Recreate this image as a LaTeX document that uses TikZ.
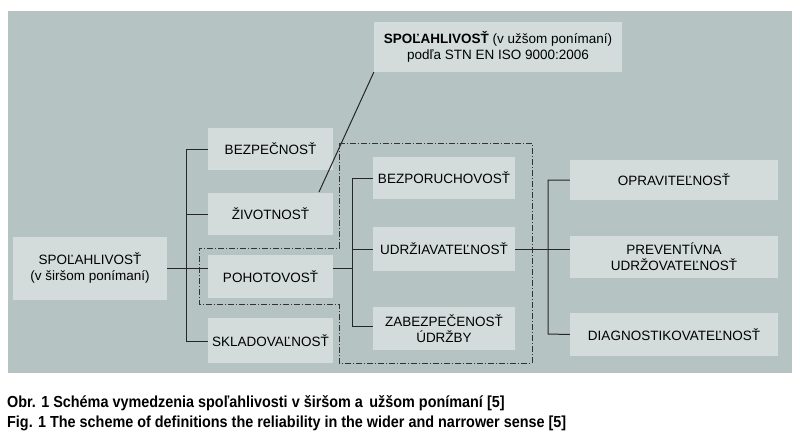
\documentclass[tikz,border=0pt]{standalone}
\usepackage{fontspec}
\setmainfont{Liberation Sans}
\begin{document}
\begin{tikzpicture}[x=1pt,y=-1pt,
  bx/.style={fill=boxc,draw=none,inner sep=0pt,align=center,font=\fontsize{13.5}{16}\selectfont},
  ln/.style={line width=1pt,draw=black!85},
  dd/.style={line width=0.9pt,draw=black!80,dash pattern=on 6pt off 2pt on 1pt off 2pt}]
\definecolor{panel}{HTML}{B6C3C3}
\definecolor{boxc}{HTML}{D3DCDB}
\useasboundingbox (0,0) rectangle (800,439);
\fill[white] (0,0) rectangle (800,439);
\fill[panel] (8,11) rectangle (792,373);
% boxes
\node[bx,minimum width=154pt,minimum height=63pt] (sw) at (90,268) {SPOĽAHLIVOSŤ\\(v širšom ponímaní)};
\node[bx,minimum width=248pt,minimum height=50pt] (su) at (498,47) {\textbf{SPOĽAHLIVOSŤ} (v užšom ponímaní)\\podľa STN EN ISO 9000:2006};
\node[bx,minimum width=125pt,minimum height=42pt] (bez) at (270.5,149) {BEZPEČNOSŤ};
\node[bx,minimum width=125pt,minimum height=42pt] (ziv) at (270.5,214) {ŽIVOTNOSŤ};
\node[bx,minimum width=125pt,minimum height=43pt] (poh) at (270.5,276.5) {POHOTOVOSŤ};
\node[bx,minimum width=125pt,minimum height=45pt] (skl) at (270.5,340.5) {SKLADOVAĽNOSŤ};
\node[bx,minimum width=142pt,minimum height=42pt] (bpo) at (444,178) {BEZPORUCHOVOSŤ};
\node[bx,minimum width=142pt,minimum height=44pt] (udr) at (444,249) {UDRŽIAVATEĽNOSŤ};
\node[bx,minimum width=142pt,minimum height=43pt] (zab) at (444,328.5) {ZABEZPEČENOSŤ\\ÚDRŽBY};
\node[bx,minimum width=208pt,minimum height=40pt] (opr) at (674,180) {OPRAVITEĽNOSŤ};
\node[bx,minimum width=208pt,minimum height=42pt] (pre) at (674,257) {PREVENTÍVNA\\UDRŽOVATEĽNOSŤ};
\node[bx,minimum width=208pt,minimum height=43pt] (dia) at (674,334.5) {DIAGNOSTIKOVATEĽNOSŤ};
% connectors
\coordinate (j1) at (186,268);
\draw[ln] (sw.east |- j1) -- (poh.west |- j1);
\draw[ln] (bez.west) -- (186,149) -- (186,341) -- (skl.west |- 0,341);
\draw[ln] (ziv.west) -- (186,214);
\coordinate (j2) at (352,268);
\draw[ln] (poh.east |- j2) -- (j2);
\draw[ln] (bpo.west) -- (352,178) -- (352,326) -- (zab.west |- 0,326);
\draw[ln] (udr.west) -- (352,249);
\coordinate (j3) at (548,249);
\draw[ln] (udr.east) -- (j3);
\draw[ln] (opr.west) -- (548,180) -- (548,334) -- (dia.west);
\draw[ln] (548,249) -- (pre.west |- 0,249);
\draw[line width=1pt,black!85] (319,192) -- (su.south west);
% dash-dot region
\draw[dd] (339,143) -- (532,143) -- (532,363) -- (339,363) -- (339,304) -- (199,304) -- (199,248) -- (339,248) -- cycle;
% caption
\node[anchor=west,inner sep=0pt,font=\fontsize{16}{18}\selectfont\bfseries,xscale=0.9] (c1) at (7,403) {Obr. 1 Schéma vymedzenia spoľahlivosti v širšom a\, užšom ponímaní [5]};
\node[anchor=west,inner sep=0pt,font=\fontsize{16}{18}\selectfont\bfseries,xscale=0.9] (c2) at (7,423) {Fig. 1 The scheme of definitions the reliability in the wider and narrower sense [5]};
\end{tikzpicture}
\end{document}
